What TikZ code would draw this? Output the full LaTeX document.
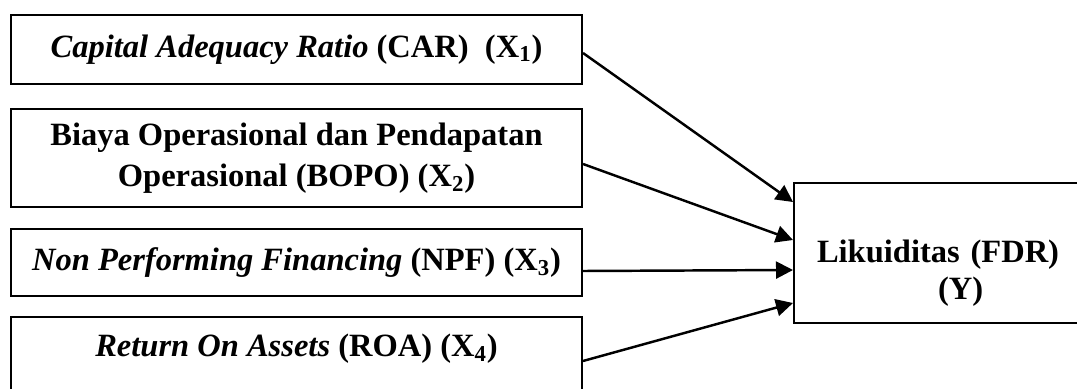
\documentclass[tikz,border=0pt]{standalone}
\usepackage{fontspec}
\setmainfont{Liberation Serif}
\usepackage{tikz}
\usetikzlibrary{positioning}
\usetikzlibrary{arrows.meta}

\tikzset{
    varbox/.style={draw, rectangle, line width=1.15pt, minimum width=11.42cm, align=center, font=\fontsize{18.5}{23.5}\selectfont\bfseries},
    arr/.style={-{Triangle[length=0.34cm,width=0.34cm]}, line width=1.4pt}
}

\begin{document}
\begin{tikzpicture}
            \useasboundingbox (0,0) rectangle (21.54,7.76);
            \clip (0,0) rectangle (21.54,7.76);

            % Independent variables
            \node[varbox, minimum height=1.38cm] (car) at (5.93,6.77) {\textit{Capital Adequacy Ratio} (CAR)\ \ (X\textsubscript{1})};
            \node[varbox, minimum height=1.96cm] (bopo) at (5.93,4.60) {Biaya Operasional dan Pendapatan\\Operasional (BOPO) (X\textsubscript{2})};
            \node[varbox, minimum height=1.34cm] (npf) at (5.93,2.51) {\textit{Non Performing Financing} (NPF) (X\textsubscript{3})};
            \node[varbox, minimum height=1.96cm] (roa) at (5.93,0.44) {\textit{Return On Assets} (ROA) (X\textsubscript{4})\\\mbox{}};

            % Dependent variable
            \node[draw, rectangle, line width=1.15pt, anchor=west, minimum height=2.8cm, text width=4.92cm, inner xsep=0.46cm, align=left, font=\fontsize{18.5}{21}\selectfont\bfseries] (fdr) at (15.86,2.70) {\rule{0pt}{1.25cm}Likuiditas (FDR)\\\hspace*{2.42cm}(Y)};

            \draw[arr] ([yshift=-0.07cm]car.east) -- ([yshift=1.02cm]fdr.west);
            \draw[arr] ([yshift=-0.12cm]bopo.east) -- ([yshift=0.26cm]fdr.west);
            \draw[arr] ([yshift=-0.17cm]npf.east) -- ([yshift=-0.34cm]fdr.west);
            \draw[arr] ([yshift=0.10cm]roa.east) -- ([yshift=-1.0cm]fdr.west);
        \end{tikzpicture}
\end{document}
